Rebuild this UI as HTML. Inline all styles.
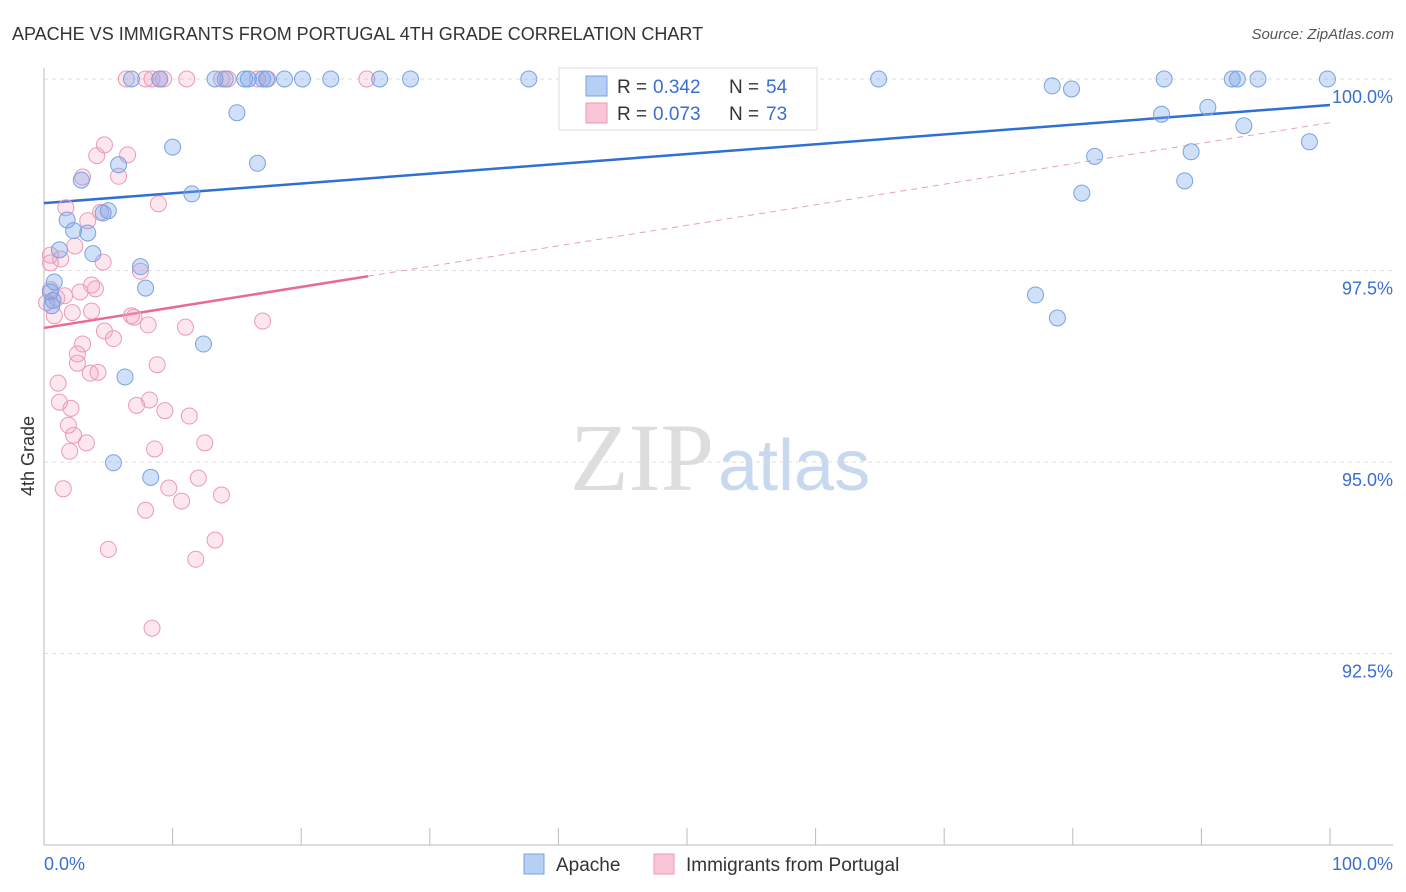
<!DOCTYPE html>
<html><head><meta charset="utf-8"><style>
body{margin:0;background:#fff;font-family:"Liberation Sans",sans-serif;}
svg{display:block}
</style></head><body>
<svg id="c" width="1406" height="892" xmlns="http://www.w3.org/2000/svg">
<text x="12" y="40" font-size="18" fill="#333">APACHE VS IMMIGRANTS FROM PORTUGAL 4TH GRADE CORRELATION CHART</text>
<text x="1394" y="39" font-size="15" fill="#555" font-style="italic" text-anchor="end">Source: ZipAtlas.com</text>
<text x="714" y="490" font-size="96" fill="#ddd" text-anchor="end" font-family="Liberation Serif">ZIP</text>
<text x="718" y="490" font-size="72" fill="#c8d8ef">atlas</text>
<text transform="translate(34,456) rotate(-90)" font-size="18" fill="#333" text-anchor="middle">4th Grade</text>
<g id="grid"></g><g id="axes"></g><g id="lines"></g><g id="pts"></g>
<g>
<rect x="559" y="68" width="258" height="62" fill="#fff" stroke="#ddd"/>
<rect x="586" y="76" width="21" height="20" fill="#b5cff5" stroke="#7aa2e0"/>
<text x="617" y="93" font-size="19" fill="#333">R =</text>
<text x="653" y="93" font-size="19" fill="#3a6fd0">0.342</text>
<text x="729" y="93" font-size="19" fill="#333">N =</text>
<text x="766" y="93" font-size="19" fill="#3a6fd0">54</text>
<rect x="586" y="103" width="21" height="20" fill="#f9c6d6" stroke="#e898b4"/>
<text x="617" y="120" font-size="19" fill="#333">R =</text>
<text x="653" y="120" font-size="19" fill="#3a6fd0">0.073</text>
<text x="729" y="120" font-size="19" fill="#333">N =</text>
<text x="766" y="120" font-size="19" fill="#3a6fd0">73</text>
</g>
<g>
<rect x="524" y="854" width="20" height="20" fill="#b5cff5" stroke="#7aa2e0"/>
<text x="556" y="871" font-size="19" fill="#333">Apache</text>
<rect x="654" y="854" width="20" height="20" fill="#f9c6d6" stroke="#e898b4"/>
<text x="686" y="871" font-size="19" fill="#333">Immigrants from Portugal</text>
</g>
</svg>
<script>
const yTicks=[100,97.5,95,92.5];
const yTickLabels=["100.0%","97.5%","95.0%","92.5%"];
const blueX=[6.8,9.0,13.3,14.1,15.6,15.9,17.0,17.3,18.7,20.1,22.3,26.1,28.5,37.7,64.9,87.1,92.4,92.8,94.4,99.8,78.4,79.9,15.0,86.9,90.5,93.3,10.0,98.4,5.8,16.6,81.7,89.2,2.9,11.5,80.7,88.7,1.8,4.6,5.0,2.3,3.4,1.2,3.8,7.5,0.8,7.9,0.5,0.7,0.6,77.1,78.8,12.4,6.3,5.4,8.3];
const blueY=[100,100,100,100,100,100,100,100,100,100,100,100,100,100,100,100,100,100,100,100,99.91,99.87,99.56,99.54,99.63,99.39,99.11,99.18,98.88,98.90,98.99,99.05,98.68,98.50,98.51,98.67,98.16,98.25,98.28,98.02,97.99,97.77,97.72,97.55,97.35,97.27,97.22,97.11,97.04,97.18,96.88,96.54,96.11,94.99,94.80];
const pinkX=[7.9,8.4,6.4,9.0,9.3,11.1,13.8,14.3,16.6,17.4,25.1,4.7,4.1,6.5,3.0,5.8,8.9,1.7,4.4,3.4,2.4,0.5,0.5,1.3,4.6,7.5,3.7,4.0,2.8,0.5,1.0,1.6,0.2,3.7,2.2,6.8,7.0,8.1,0.8,11.0,17.0,4.7,5.4,3.0,2.6,2.6,3.6,4.2,8.8,1.1,1.2,2.1,7.2,8.2,9.4,11.3,1.9,2.3,3.3,2.0,8.6,12.5,12.0,9.7,1.5,10.7,13.8,7.9,13.3,5.0,11.8,8.4];
const pinkY=[100,100,100,100,100,100,100,100,100,100,100,99.14,99.0,99.01,98.72,98.73,98.37,98.32,98.26,98.15,97.82,97.70,97.60,97.65,97.61,97.49,97.31,97.26,97.22,97.25,97.14,97.17,97.08,96.97,96.95,96.91,96.89,96.79,96.91,96.76,96.84,96.71,96.61,96.54,96.41,96.29,96.16,96.17,96.27,96.03,95.78,95.70,95.74,95.81,95.67,95.60,95.48,95.35,95.25,95.14,95.17,95.25,94.79,94.66,94.65,94.49,94.57,94.37,93.98,93.86,93.73,92.83];
const blueTrend=[98.38,99.66];
const pinkTrend=[96.75,99.43];
const pinkSolidEnd=25.2;
const NS="http://www.w3.org/2000/svg";
const sx=v=>44+v*12.86, sy=v=>79+(100-v)*76.6;
function mk(tag,attrs,parent){const e=document.createElementNS(NS,tag);for(const k in attrs)e.setAttribute(k,attrs[k]);document.getElementById(parent).appendChild(e);return e;}
yTicks.forEach((t,i)=>{
 const g=mk('line',{x1:44,x2:1393,y1:sy(t),y2:sy(t),stroke:'#ddd','stroke-dasharray':'4,4'},'grid');
 
 
 const l=mk('text',{x:1393,y:sy(t)+24,'font-size':18,fill:'#3a6fd0','text-anchor':'end'},'grid');
 l.textContent=yTickLabels[i];
 
 
});
const ax=mk('line',{x1:44,x2:1393,y1:845,y2:845,stroke:'#bbb'},'axes');


const ay=mk('line',{x1:44,x2:44,y1:68,y2:845,stroke:'#bbb'},'axes');


for(let i=0;i<=10;i++){const t=mk('line',{x1:sx(i*10),x2:sx(i*10),y1:828,y2:845,stroke:'#bbb'},'axes');
 
 }
[[0,"0.0%",'start',44],[100,"100.0%",'end',1393]].forEach(a=>{const t=mk('text',{x:a[3],y:870,'font-size':18,fill:'#3a6fd0','text-anchor':a[2]},'axes');t.textContent=a[1];
 
 });
const lerp=(tr,x)=>tr[0]+(tr[1]-tr[0])*x/100;
const bl=mk('line',{x1:sx(0),y1:sy(blueTrend[0]),x2:sx(100),y2:sy(blueTrend[1]),stroke:'#2f6fd6','stroke-width':2.5},'lines');


const pl=mk('line',{x1:sx(0),y1:sy(pinkTrend[0]),x2:sx(pinkSolidEnd),y2:sy(lerp(pinkTrend,pinkSolidEnd)),stroke:'#e86a97','stroke-width':2.5},'lines');


const pd=mk('line',{x1:sx(pinkSolidEnd),y1:sy(lerp(pinkTrend,pinkSolidEnd)),x2:sx(100),y2:sy(pinkTrend[1]),stroke:'#e8a0ba','stroke-width':1,'stroke-dasharray':'6,5'},'lines');


pinkX.forEach((x,i)=>{const c=mk('circle',{cx:sx(x),cy:sy(pinkY[i]),r:8,fill:'rgba(245,160,190,0.25)',stroke:'#eb9ab8','stroke-width':1},'pts');
 
 });
blueX.forEach((x,i)=>{const c=mk('circle',{cx:sx(x),cy:sy(blueY[i]),r:8,fill:'rgba(120,165,235,0.35)',stroke:'#7aa2e0','stroke-width':1},'pts');
 
 });
</script>
</body></html>
